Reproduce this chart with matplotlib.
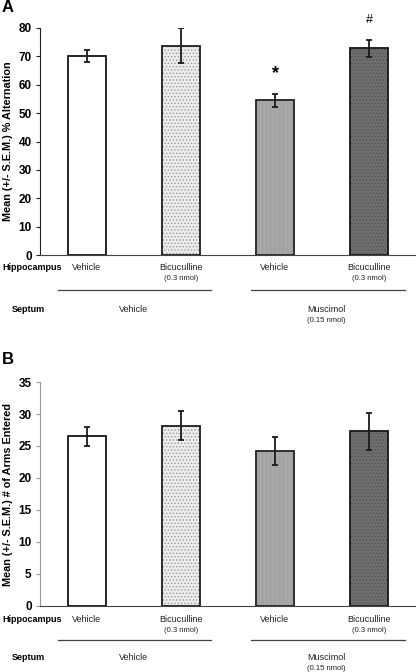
import matplotlib.pyplot as plt
import matplotlib.transforms as mtransforms
from matplotlib.lines import Line2D

plt.rcParams['font.family'] = ['Liberation Sans', 'DejaVu Sans']
plt.rcParams['hatch.linewidth'] = 0.6

# data
groups = ['Vehicle', 'Bicuculline', 'Vehicle', 'Bicuculline']
doses = ['', '(0.3 nmol)', '', '(0.3 nmol)']
alternation = [70.2, 73.8, 54.5, 72.9]
alternation_sem = [2.1, 6.2, 2.2, 3.0]
arms = [26.5, 28.2, 24.2, 27.3]
arms_sem = [1.5, 2.2, 2.2, 2.9]
marks_a = ['', '', '*', '#']

colors = ['white', '#ececec', '#a3a3a3', '#6e6e6e']
hatches = [None, '.....', '||||', '.....']
hatch_cols = ['black', '#9a9a9a', '#b0b0b0', '#555555']

fig = plt.figure(figsize=(4.16, 6.72), dpi=100)
W, H = 416, 672


def panel(ax_rect, vals, errs, ymax, ystep, ylabel, letter, letter_y, rows_y, spine_col, marks=None):
    ax = fig.add_axes(ax_rect)
    x = range(len(vals))
    for i in x:
        ax.bar(i, vals[i], width=0.41, color=colors[i], edgecolor='black',
               linewidth=1.2, hatch=hatches[i], zorder=2)
        if hatches[i]:
            ax.patches[-1].set_edgecolor(hatch_cols[i])
            ax.bar(i, vals[i], width=0.41, color='none', edgecolor='#1a1a1a',
                   linewidth=1.2, zorder=3)
    ax.errorbar(list(x), vals, yerr=errs, fmt='none', ecolor='#1a1a1a',
                elinewidth=1.3, capsize=2.5, capthick=1.3, zorder=4)
    if marks:
        for i, m in enumerate(marks):
            if m == '*':
                ax.text(i, vals[i] + errs[i] + 7.3, m, ha='center', va='center',
                        fontsize=13, fontweight='bold', clip_on=False)
            elif m:
                ax.text(i, vals[i] + errs[i] + 7.0, m, ha='center', va='center',
                        fontsize=9, clip_on=False)
    ax.set_xlim(-0.5, 3.5)
    ax.set_ylim(0, ymax)
    ax.set_yticks(range(0, ymax + 1, ystep))
    ax.set_xticks([])
    for s in ['top', 'right']:
        ax.spines[s].set_visible(False)
    ax.spines['left'].set_color(spine_col)
    ax.spines['bottom'].set_color('#444444')
    ax.tick_params(axis='y', length=3, color=spine_col, labelsize=8.5, pad=3)
    for t in ax.get_yticklabels():
        t.set_fontweight('bold')
    ax.set_ylabel(ylabel, fontsize=7.8, fontweight='bold', va='center')
    ax.yaxis.set_label_coords(-32 / 376, 0.5)
    fig.text(2 / W, 1 - letter_y / H, letter, fontsize=12, fontweight='bold',
             ha='left', va='center')

    # group labels under the axis
    tr = mtransforms.blended_transform_factory(ax.transData, fig.transFigure)
    hy, ly, sy = rows_y
    fig.text(2 / W, 1 - hy / H, 'Hippocampus', fontsize=6.5, fontweight='bold',
             va='center')
    fig.text(12 / W, 1 - sy / H, 'Septum', fontsize=6.5, fontweight='bold',
             va='center')
    for i in x:
        ax.text(i, 1 - hy / H, groups[i], transform=tr, ha='center', va='center',
                fontsize=6.5, color='#222222')
        if doses[i]:
            ax.text(i, 1 - (hy + 11) / H, doses[i], transform=tr, ha='center',
                    va='center', fontsize=5.5, color='#222222')
    for x0, x1 in [(-0.31, 1.32), (1.74, 3.38)]:
        ax.add_line(Line2D([x0, x1], [1 - ly / H] * 2, transform=tr,
                           color='#444444', linewidth=0.9, clip_on=False))
    ax.text(0.5, 1 - sy / H, 'Vehicle', transform=tr, ha='center', va='center',
            fontsize=6.5, color='#222222')
    ax.text(2.55, 1 - sy / H, 'Muscimol', transform=tr, ha='center', va='center',
            fontsize=6.5, color='#222222')
    ax.text(2.55, 1 - (sy + 11) / H, '(0.15 nmol)', transform=tr, ha='center',
            va='center', fontsize=5.5, color='#222222')
    return ax


panel([40 / W, 1 - 255 / H, 376 / W, 227 / H], alternation, alternation_sem, 80, 10,
      'Mean (+/- S.E.M.) % Alternation', 'A', 8, (267, 290, 309), '#222222', marks_a)
panel([40 / W, 1 - 606 / H, 376 / W, 224 / H], arms, arms_sem, 35, 5,
      'Mean (+/- S.E.M.) # of Arms Entered', 'B', 360, (619, 640, 658), '#999999')

fig.savefig('out.png', dpi=100)
